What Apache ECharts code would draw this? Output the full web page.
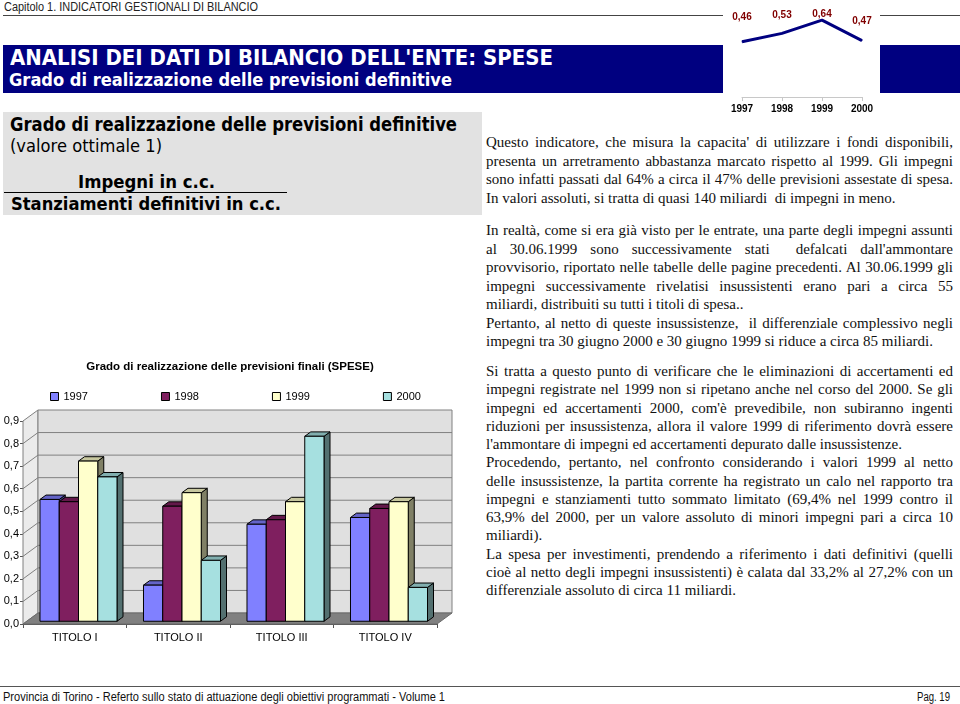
<!DOCTYPE html>
<html>
<head>
<meta charset="utf-8">
<script src="https://cdn.jsdelivr.net/npm/echarts@6/dist/echarts.min.js"></script>
<style>
  body { margin: 0; width: 960px; height: 704px; position: relative; background: #fff; overflow: hidden; font-family: "Liberation Sans", Arial, sans-serif; }
  .t { position: absolute; white-space: pre; transform-origin: 0 50%; }
  .rule { position: absolute; }
  .ln { position: absolute; left: 486px; font-family: "Liberation Serif", serif; font-size: 15px; line-height: 18px; height: 18px; color: #111; white-space: pre; transform-origin: 0 50%; }
  #bars { position: absolute; left: 0; top: 340px; width: 460px; height: 320px; }
  #trend { position: absolute; left: 720px; top: 0; width: 170px; height: 120px; }
</style>
</head>
<body>
  <!-- intestazione -->
  <div class="t" data-w="254" style="left:4px;top:0;font-size:12px;line-height:14px;color:#222">Capitolo 1. INDICATORI GESTIONALI DI BILANCIO</div>
  <div class="rule" style="left:3px;top:15px;width:720px;height:1px;background:#444"></div>
  <div class="rule" style="left:880px;top:15px;width:80px;height:1px;background:#444"></div>

  <!-- banda blu -->
  <div class="rule" style="left:3px;top:45px;width:720px;height:48px;background:#000080"></div>
  <div class="rule" style="left:880px;top:45px;width:80px;height:48px;background:#000080"></div>
  <div class="t" data-w="543" style="left:10px;top:46px;font-family:'DejaVu Sans',sans-serif;font-weight:bold;font-size:21px;line-height:24px;color:#fff">ANALISI DEI DATI DI BILANCIO DELL'ENTE: SPESE</div>
  <div class="t" data-w="443" style="left:9px;top:70px;font-family:'DejaVu Sans',sans-serif;font-weight:bold;font-size:17px;line-height:20px;color:#fff">Grado di realizzazione delle previsioni definitive</div>

  <!-- riquadro grigio -->
  <div class="rule" style="left:3px;top:112px;width:479px;height:103px;background:#e2e2e2"></div>
  <div class="t" data-w="447" style="left:10px;top:113px;font-family:'DejaVu Sans',sans-serif;font-weight:bold;font-size:19px;line-height:22px;color:#000">Grado di realizzazione delle previsioni definitive</div>
  <div class="t" data-w="152" style="left:10px;top:135px;font-family:'DejaVu Sans',sans-serif;font-size:18px;line-height:22px;color:#000">(valore ottimale 1)</div>
  <div class="t" data-w="137" style="left:78px;top:171px;font-family:'DejaVu Sans',sans-serif;font-weight:bold;font-size:18px;line-height:22px;color:#000">Impegni in c.c.</div>
  <div class="rule" style="left:4px;top:192px;width:283px;height:1px;background:#000"></div>
  <div class="t" data-w="270" style="left:11px;top:193px;font-family:'DejaVu Sans',sans-serif;font-weight:bold;font-size:18px;line-height:22px;color:#000">Stanziamenti definitivi in c.c.</div>

  <div id="trend"></div>
  <div id="bars"></div>
  <div id="testo"></div>

  <!-- piè di pagina -->
  <div class="rule" style="left:0;top:686px;width:960px;height:1px;background:#555"></div>
  <div class="t" data-w="442" style="left:3px;top:690px;font-size:12px;line-height:14px;color:#111">Provincia di Torino - Referto sullo stato di attuazione degli obiettivi programmati - Volume 1</div>
  <div class="t" data-w="33" style="left:917px;top:690px;font-size:12px;line-height:14px;color:#111">Pag. 19</div>

<script>
// titoli di spesa
const titoli = ['TITOLO I', 'TITOLO II', 'TITOLO III', 'TITOLO IV']
const anni = ['1997', '1998', '1999', '2000']
// grado di realizzazione per titolo
const grado1997 = [0.54, 0.16, 0.43, 0.46]
const grado1998 = [0.53, 0.51, 0.45, 0.50]
const grado1999 = [0.71, 0.57, 0.53, 0.53]
const grado2000 = [0.64, 0.27, 0.82, 0.15]
// andamento complessivo
const gradoTotale = [0.46, 0.53, 0.64, 0.47]

// testo a destra: [riga, giustificata]
const paragrafi = [
  { y: 142, step: 18.5, righe: [
    ["Questo indicatore, che misura la capacita' di utilizzare i fondi disponibili,", 1],
    ['presenta un arretramento abbastanza marcato rispetto al 1999. Gli impegni', 1],
    ['sono infatti passati dal 64% a circa il 47% delle previsioni assestate di spesa.', 1],
    ['In valori assoluti, si tratta di quasi 140 miliardi  di impegni in meno.', 0]
  ] },
  { y: 230, step: 18.5, righe: [
    ['In realtà, come si era già visto per le entrate, una parte degli impegni assunti', 1],
    ["al 30.06.1999 sono successivamente stati  defalcati dall'ammontare", 1],
    ['provvisorio, riportato nelle tabelle delle pagine precedenti. Al 30.06.1999 gli', 1],
    ['impegni successivamente rivelatisi insussistenti erano pari a circa 55', 1],
    ['miliardi, distribuiti su tutti i titoli di spesa..', 0],
    ['Pertanto, al netto di queste insussistenze,  il differenziale complessivo negli', 1],
    ['impegni tra 30 giugno 2000 e 30 giugno 1999 si riduce a circa 85 miliardi.', 0]
  ] },
  { y: 371, step: 18.25, righe: [
    ['Si tratta a questo punto di verificare che le eliminazioni di accertamenti ed', 1],
    ['impegni registrate nel 1999 non si ripetano anche nel corso del 2000. Se gli', 1],
    ["impegni ed accertamenti 2000, com'è prevedibile, non subiranno ingenti", 1],
    ['riduzioni per insussistenza, allora il valore 1999 di riferimento dovrà essere', 1],
    ["l'ammontare di impegni ed accertamenti depurato dalle insussistenze.", 0],
    ['Procedendo, pertanto, nel confronto considerando i valori 1999 al netto', 1],
    ['delle insussistenze, la partita corrente ha registrato un calo nel rapporto tra', 1],
    ['impegni e stanziamenti tutto sommato limitato (69,4% nel 1999 contro il', 1],
    ['63,9% del 2000, per un valore assoluto di minori impegni pari a circa 10', 1],
    ['miliardi).', 0],
    ['La spesa per investimenti, prendendo a riferimento i dati definitivi (quelli', 1],
    ['cioè al netto degli impegni insussistenti) è calata dal 33,2% al 27,2% con un', 1],
    ['differenziale assoluto di circa 11 miliardi.', 0]
  ] }
]

const testo = document.getElementById('testo')
paragrafi.forEach(p => {
  p.righe.forEach(([riga, giust], i) => {
    const div = document.createElement('div')
    div.className = 'ln'
    div.textContent = riga
    div.style.top = (p.y + i * p.step - 9) + 'px'
    if (giust) {
      div.dataset.w = 467
      div.dataset.j = 1
    }
    testo.appendChild(div)
  })
})

// adatta larghezze al riferimento
document.querySelectorAll('[data-w]').forEach(el => {
  const W = +el.dataset.w
  const w = el.getBoundingClientRect().width
  if (el.dataset.j && w < W) {
    const n = (el.textContent.match(/ /g) || []).length
    el.style.wordSpacing = ((W - w) / n) + 'px'
  } else {
    el.style.transform = 'scaleX(' + (W / w) + ')'
  }
})

// ---- grafico a barre 3D ----
const serieValori = [grado1997, grado1998, grado1999, grado2000]
const coloriBarre = ['#8080ff', '#7f1f5f', '#ffffcc', '#a6e0e0']
const DX = 15, DY = -11 // profondità pareti
const yMax = 0.9

function shade(hex, f) {
  const n = parseInt(hex.slice(1), 16)
  const r = Math.round(((n >> 16) & 255) * f)
  const g = Math.round(((n >> 8) & 255) * f)
  const b = Math.round((n & 255) * f)
  return 'rgb(' + r + ',' + g + ',' + b + ')'
}

function renderPareti(params, api) {
  const band = api.size([1, 0])[0]
  const x0 = api.coord([0, 0])[0] - band / 2
  const x1 = api.coord([titoli.length - 1, 0])[0] + band / 2
  const yb = api.coord([0, 0])[1]
  const yt = api.coord([0, yMax])[1]
  const line = { stroke: '#808080', lineWidth: 1 }
  const children = [
    { type: 'polygon', shape: { points: [[x0, yt], [x0 + DX, yt + DY], [x0 + DX, yb + DY], [x0, yb]] },
      style: { fill: '#ebebeb', stroke: '#808080' } },
    { type: 'rect', shape: { x: x0 + DX, y: yt + DY, width: x1 - x0, height: yb - yt },
      style: { fill: '#e0e0e0', stroke: '#808080' } },
    { type: 'polygon', shape: { points: [[x0, yb], [x0 + DX, yb + DY], [x1 + DX, yb + DY], [x1, yb]] },
      style: { fill: '#808080', stroke: '#6a6a6a' } }
  ]
  for (let i = 1; i < 9; i++) {
    const y = api.coord([0, i / 10])[1]
    children.push({ type: 'line', shape: { x1: x0 + DX, y1: y + DY, x2: x1 + DX, y2: y + DY }, style: line })
    children.push({ type: 'line', shape: { x1: x0, y1: y, x2: x0 + DX, y2: y + DY }, style: line })
  }
  return { type: 'group', children }
}

function renderBarra(k) {
  return function (params, api) {
    const ci = api.value(0)
    const v = api.value(1)
    const band = api.size([1, 0])[0]
    const w = band * 0.186
    const ox = DX * 0.25, oy = DY * 0.25
    const bx = DX * 0.4, by = DY * 0.4
    const cx = api.coord([ci, 0])[0]
    const left = cx - 2 * w + k * w + ox
    const base = api.coord([ci, 0])[1] + oy
    const top = api.coord([ci, v])[1] + oy
    const col = coloriBarre[k]
    const bordo = { stroke: '#000', lineWidth: 1 }
    return {
      type: 'group',
      children: [
        { type: 'polygon', shape: { points: [[left + w, top], [left + w + bx, top + by], [left + w + bx, base + by], [left + w, base]] },
          style: Object.assign({ fill: shade(col, 0.5) }, bordo) },
        { type: 'polygon', shape: { points: [[left, top], [left + bx, top + by], [left + w + bx, top + by], [left + w, top]] },
          style: Object.assign({ fill: shade(col, 0.78) }, bordo) },
        { type: 'rect', shape: { x: left, y: top, width: w, height: base - top },
          style: Object.assign({ fill: col }, bordo) }
      ]
    }
  }
}

const chartBarre = echarts.init(document.getElementById('bars'))
chartBarre.setOption({
  animation: false,
  textStyle: { fontFamily: 'Liberation Sans, Arial, sans-serif' },
  title: {
    text: 'Grado di realizzazione delle previsioni finali (SPESE)',
    left: 'center',
    top: 16,
    textStyle: { fontSize: 11.5, fontWeight: 'bold', color: '#000' }
  },
  legend: {
    data: anni,
    left: 45,
    top: 46,
    icon: 'rect',
    itemWidth: 8,
    itemHeight: 8,
    itemGap: 73,
    itemStyle: { borderColor: '#000', borderWidth: 1 },
    textStyle: { fontSize: 11, color: '#000' }
  },
  grid: { left: 23, top: 81, width: 414, height: 203 },
  xAxis: {
    type: 'category',
    data: titoli,
    axisLine: { show: true, lineStyle: { color: '#555' } },
    axisTick: { show: true, length: 4, lineStyle: { color: '#555' } },
    axisLabel: { fontSize: 11, color: '#000', margin: 8 },
    splitLine: { show: false }
  },
  yAxis: {
    type: 'value',
    min: 0,
    max: yMax,
    interval: 0.1,
    axisLine: { show: true, lineStyle: { color: '#555' } },
    axisTick: { show: true, length: 3, lineStyle: { color: '#555' } },
    axisLabel: { fontSize: 11, color: '#000', margin: 4, formatter: v => v.toFixed(1).replace('.', ',') },
    splitLine: { show: false }
  },
  series: [
    { type: 'custom', name: 'pareti', silent: true, z: 1, data: [[0, 0]], renderItem: renderPareti }
  ].concat(anni.map((anno, k) => ({
    type: 'custom',
    name: anno,
    z: 2,
    itemStyle: { color: coloriBarre[k] },
    data: titoli.map((t, i) => [i, serieValori[k][i]]),
    renderItem: renderBarra(k)
  })))
})

// ---- andamento complessivo ----
const distanzaEtichette = [19, 13, 0, 14]
const chartTrend = echarts.init(document.getElementById('trend'))
chartTrend.setOption({
  animation: false,
  textStyle: { fontFamily: 'Liberation Sans, Arial, sans-serif' },
  grid: { left: 22, top: 13, width: 120, height: 84 },
  xAxis: {
    type: 'category',
    data: anni,
    boundaryGap: false,
    axisLine: { show: true, lineStyle: { color: '#c8c8c8' } },
    axisTick: { show: true, length: 4, lineStyle: { color: '#c8c8c8' } },
    axisLabel: { fontSize: 10, fontWeight: 'bold', color: '#000', margin: 7 }
  },
  yAxis: { type: 'value', min: 0, max: 0.7, show: false },
  series: [{
    type: 'line',
    data: gradoTotale.map((v, i) => ({ value: v, label: { distance: distanzaEtichette[i] } })),
    symbol: 'circle',
    symbolSize: 1,
    showSymbol: true,
    itemStyle: { color: '#000080' },
    lineStyle: { color: '#000080', width: 3 },
    label: {
      show: true,
      position: 'top',
      fontSize: 10,
      fontWeight: 'bold',
      color: '#800000',
      formatter: p => p.value.toFixed(2).replace('.', ',')
    }
  }]
})
</script>
</body>
</html>
